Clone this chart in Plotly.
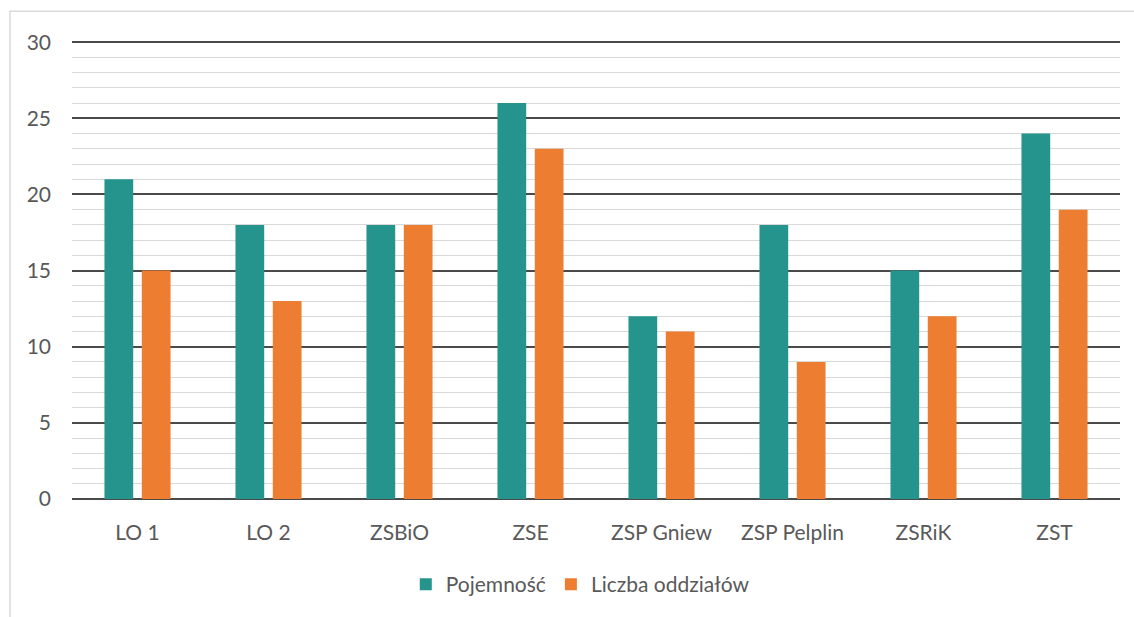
import plotly.graph_objects as go

categories = ["LO 1", "LO 2", "ZSBiO", "ZSE", "ZSP Gniew", "ZSP Pelplin", "ZSRiK", "ZST"]
pojemnosc = [21, 18, 18, 26, 12, 18, 15, 24]
liczba_oddzialow = [15, 13, 18, 23, 11, 9, 12, 19]
y_ticks = [0, 5, 10, 15, 20, 25, 30]

FONT = "Lato"
TXT = "#595959"

fig = go.Figure()
fig.add_trace(go.Bar(x=categories, y=pojemnosc, name="Pojemność",
                     marker=dict(color="#25948C", line=dict(width=0))))
fig.add_trace(go.Bar(x=categories, y=liczba_oddzialow, name="Liczba oddziałów",
                     marker=dict(color="#ED7D31", line=dict(width=0))))

fig.update_layout(
    width=1134, height=617,
    margin=dict(l=72, r=14, t=41, b=115),
    paper_bgcolor="white", plot_bgcolor="white",
    barmode="group", bargap=0.43, bargroupgap=0.23,
    font=dict(family=FONT, size=21, color=TXT),
    showlegend=True,
    legend=dict(orientation="h", x=0.485, xanchor="center", y=-0.187, yanchor="middle",
                font=dict(family=FONT, size=21, color=TXT),
                traceorder="normal"),
    xaxis=dict(showgrid=False, showline=False, ticks="", ticklabelstandoff=19,
               tickfont=dict(family=FONT, size=21, color=TXT)),
    yaxis=dict(range=[0, 30.08], tickvals=y_ticks, showline=False, ticks="",
               gridcolor="#4A4A4A", gridwidth=1.6, zeroline=True,
               zerolinecolor="#4A4A4A", zerolinewidth=1.6,
               ticklabelstandoff=20,
               tickfont=dict(family=FONT, size=21, color=TXT),
               minor=dict(dtick=1, showgrid=True, gridcolor="#D9D9D9", gridwidth=1.4),
               layer="below traces"),
    shapes=[dict(type="rect", xref="paper", yref="paper",
                 x0=-0.0592, x1=1.05, y0=-0.30, y1=1.065,
                 line=dict(color="#D9D9D9", width=1.5), fillcolor="rgba(0,0,0,0)",
                 layer="below")],
)

fig.write_html("out.html")
